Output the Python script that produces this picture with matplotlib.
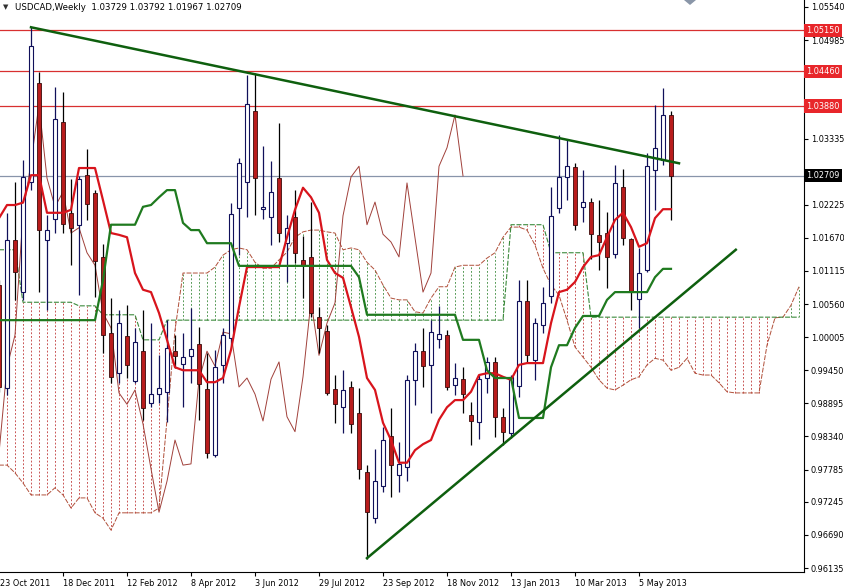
import matplotlib
matplotlib.use("Agg")
import matplotlib.pyplot as plt
from matplotlib.patches import Polygon

# weekly USDCAD candles, first bar = 23 Oct 2011
opens = [1.0088, 0.9915, 1.0163, 1.0076, 1.0261, 1.0426, 1.0163, 1.0199, 1.0362, 1.0209,
         1.0189, 1.0272, 1.0242, 1.0135, 1.0007, 0.9940, 1.0002, 0.9927, 0.9977, 0.9890,
         0.9905, 0.9909, 0.9977, 0.9955, 0.9969, 0.9989, 0.9914, 0.9803, 0.9954, 0.9999,
         1.0217, 1.0261, 1.0380, 1.0215, 1.0202, 1.0267, 1.0158, 1.0202, 1.0130, 1.0135,
         1.0034, 1.0011, 0.9914, 0.9883, 0.9917, 0.9873, 0.9774, 0.9697, 0.9751, 0.9835,
         0.9769, 0.9783, 0.9929, 0.9977, 0.9954, 0.9997, 1.0004, 0.9920, 0.9930, 0.9870,
         0.9858, 0.9932, 0.9959, 0.9867, 0.9840, 0.9919, 1.0061, 0.9962, 1.0021, 1.0070,
         1.0217, 1.0269, 1.0286, 1.0219, 1.0227, 1.0172, 1.0175, 1.0140, 1.0252, 1.0165,
         1.0064, 1.0113, 1.0281, 1.0298, 1.03729]
highs = [1.0096, 1.0209, 1.0261, 1.0298, 1.0520, 1.0445, 1.0206, 1.0420, 1.0411, 1.0266,
         1.0271, 1.0316, 1.0247, 1.0157, 1.0066, 1.0046, 1.0054, 1.0016, 1.0046, 1.0024,
         0.9970, 1.0029, 1.0004, 1.0007, 1.0049, 1.0017, 0.9974, 0.9979, 1.0016, 1.0225,
         1.0301, 1.0440, 1.0443, 1.0321, 1.0296, 1.0360, 1.0206, 1.0247, 1.0170, 1.0227,
         1.0051, 1.0021, 0.9937, 0.9945, 0.9927, 0.9915, 0.9786, 0.9813, 0.9850, 0.9882,
         0.9825, 0.9937, 0.9991, 1.0016, 1.0029, 1.0053, 1.0012, 0.9957, 0.9950, 0.9892,
         0.9937, 0.9967, 0.9967, 0.9882, 0.9937, 1.0096, 1.0096, 1.0032, 1.0085, 1.0252,
         1.0339, 1.0331, 1.0292, 1.0281, 1.0234, 1.0230, 1.0210, 1.0289, 1.0282, 1.0167,
         1.0150, 1.0309, 1.0390, 1.0418, 1.03792]
lows = [0.9909, 0.9904, 1.0063, 1.0063, 1.0247, 1.0076, 1.0046, 1.0175, 1.0175, 1.0121,
        1.0071, 1.0197, 1.0068, 0.9974, 0.9924, 0.9924, 0.9932, 0.9924, 0.9862, 0.9883,
        0.9890, 0.9858, 0.9949, 0.9883, 0.9924, 0.9862, 0.9798, 0.9800, 0.9924, 0.9987,
        1.0138, 1.0202, 1.0205, 1.0199, 1.0155, 1.0160, 1.0093, 1.0125, 1.0066, 1.0034,
        0.9974, 0.9904, 0.9857, 0.9840, 0.9840, 0.9763, 0.9629, 0.9689, 0.9741, 0.9733,
        0.9741, 0.9759, 0.9887, 0.9917, 0.9873, 0.9982, 0.9912, 0.9904, 0.9873, 0.9820,
        0.9830, 0.9907, 0.9833, 0.9820, 0.9831, 0.9900, 0.9957, 0.9929, 1.0007, 1.0058,
        1.0209, 1.0230, 1.0180, 1.0193, 1.0132, 1.0113, 1.0083, 1.0133, 1.0155, 1.0046,
        1.0016, 1.0110, 1.0214, 1.0289, 1.01967]
closes = [0.9917, 1.0163, 1.0110, 1.0269, 1.0489, 1.0180, 1.0180, 1.0366, 1.0190, 1.0184,
          1.0266, 1.0224, 1.0128, 1.0004, 0.9934, 1.0024, 0.9954, 0.9992, 0.9882, 0.9905,
          0.9915, 0.9982, 0.9969, 0.9967, 0.9981, 0.9922, 0.9806, 0.9950, 1.0004, 1.0207,
          1.0293, 1.0391, 1.0267, 1.0219, 1.0244, 1.0175, 1.0184, 1.0142, 1.0121, 1.0041,
          1.0016, 0.9907, 0.9888, 0.9912, 0.9855, 0.9780, 0.9707, 0.9759, 0.9828, 0.9786,
          0.9788, 0.9929, 0.9977, 0.9952, 1.0009, 1.0006, 0.9917, 0.9932, 0.9905, 0.9860,
          0.9930, 0.9959, 0.9867, 0.9842, 0.9934, 1.0061, 0.9970, 1.0024, 1.0058, 1.0204,
          1.0269, 1.0287, 1.0189, 1.0227, 1.0173, 1.0160, 1.0135, 1.0259, 1.0167, 1.0076,
          1.0108, 1.0287, 1.0318, 1.0373, 1.02709]

# Ichimoku lines
tenkan = [1.0200, 1.0222, 1.0222, 1.0226, 1.0272, 1.0272, 1.0209, 1.0209, 1.0209, 1.0214,
          1.0284, 1.0284, 1.0284, 1.0230, 1.0175, 1.0172, 1.0168, 1.0108, 1.0080, 1.0076,
          1.0041, 0.9996, 0.9950, 0.9945, 0.9945, 0.9945, 0.9925, 0.9925, 0.9932, 0.9979,
          1.0051, 1.0118, 1.0118, 1.0118, 1.0118, 1.0118, 1.0168, 1.0214, 1.0251, 1.0235,
          1.0209, 1.0130, 1.0108, 1.0100, 1.0051, 1.0001, 0.9932, 0.9912, 0.9857, 0.9828,
          0.9790, 0.9790, 0.9811, 0.9821, 0.9828, 0.9862, 0.9883, 0.9895, 0.9895, 0.9909,
          0.9937, 0.9940, 0.9940, 0.9934, 0.9929, 0.9954, 0.9957, 0.9957, 0.9957, 1.0024,
          1.0076, 1.0080, 1.0093, 1.0118, 1.0135, 1.0138, 1.0168, 1.0197, 1.0209, 1.0185,
          1.0152, 1.0158, 1.0200, 1.0215, 1.0215]
kijun = ([1.0029] * 13 + [1.0096] + [1.0189] * 4 + [1.0219, 1.0222, 1.0235, 1.0247, 1.0247,
         1.0192, 1.0180, 1.0180] + [1.0158] * 4 + [1.0120] * 15 + [1.0101] + [1.0038] * 12
         + [0.9996] * 3 + [0.9945] + [0.9932] * 3 + [0.9865] * 4 + [0.9950, 0.9987, 0.9987,
         1.0016, 1.0036, 1.0036, 1.0036, 1.0063] + [1.0076] * 5 + [1.0101, 1.0115, 1.0115])
span_a = [0.9786, 0.9786, 0.9773, 0.9756, 0.9736, 0.9736, 0.9736, 0.9748, 0.9736, 0.9714,
          0.9731, 0.9731, 0.9706, 0.9697, 0.9677, 0.9706, 0.9706, 0.9706, 0.9706, 0.9706,
          0.9714, 0.9862, 1.0012, 1.0108, 1.0108, 1.0108, 1.0108, 1.0118, 1.0138, 1.0147,
          1.0150, 1.0147, 1.0126, 1.0116, 1.0116, 1.0130, 1.0143, 1.0168, 1.0177, 1.0180,
          1.0180, 1.0177, 1.0175, 1.0147, 1.0150, 1.0147, 1.0126, 1.0113, 1.0088, 1.0066,
          1.0063, 1.0063, 1.0043, 1.0041, 1.0066, 1.0085, 1.0085, 1.0118, 1.0121, 1.0121,
          1.0121, 1.0133, 1.0142, 1.0168, 1.0185, 1.0185, 1.0180, 1.0155, 1.0116, 1.0088,
          1.0071, 1.0029, 0.9984, 0.9967, 0.9950, 0.9929, 0.9915, 0.9912, 0.9920, 0.9929,
          0.9934, 0.9954, 0.9965, 0.9962, 0.9945, 0.9950, 0.9965, 0.9940, 0.9937, 0.9937,
          0.9924, 0.9909, 0.9907, 0.9907, 0.9907, 0.9907, 0.9987, 1.0033, 1.0034, 1.0054,
          1.0085]
span_b = ([1.0147] * 3 + [1.0059] * 7 + [1.0053] * 3 + [1.0038] * 5 + [0.9996] * 3
          + [1.0029] * 43 + [1.0189] * 5 + [1.0142] * 5 + [1.0034] * 27)

levels = [1.05150, 1.04460, 1.03880]
last_price = 1.02709
trend_top_x, trend_top_y = [4, 85], [1.0520, 1.0292]
trend_bot_x, trend_bot_y = [46, 92.1], [0.9630, 1.0147]

y_ticks = [1.05540, 1.04985, 1.04430, 1.03335, 1.02780, 1.02225, 1.01670, 1.01115,
           1.00560, 1.00005, 0.99450, 0.98895, 0.98340, 0.97785, 0.97245, 0.96690, 0.96135]
hidden_ticks = [1.04430, 1.02780]  # covered by the price boxes
x_ticks = [8, 16, 24, 32, 40, 48, 56, 64, 72, 80]
x_labels = ["18 Dec 2011", "12 Feb 2012", "8 Apr 2012", "3 Jun 2012", "29 Jul 2012",
            "23 Sep 2012", "18 Nov 2012", "13 Jan 2013", "10 Mar 2013", "5 May 2013"]
first_label = "23 Oct 2011"
title = "USDCAD,Weekly  1.03729 1.03792 1.01967 1.02709"

FONT = "DejaVu Sans"
FS = 5.9

fig = plt.figure(figsize=(8.45, 5.88), dpi=100)
ax = fig.add_axes([0, 16 / 588, 804 / 845, 572 / 588])
ax.set_xlim(0.125, 100.625)
ax.set_ylim(0.96068, 1.05657)

# cloud hatching
n_cloud = len(span_a)
for i in range(n_cloud):
    a, b = span_a[i], span_b[i]
    col = "#3c8a3c" if a > b else "#c03a3a"
    ax.vlines(i, min(a, b), max(a, b), colors=col, linestyles=(0, (2.2, 2.2)),
              linewidth=0.6, zorder=1)
ax.plot(range(n_cloud), span_a, color="#b0503a", lw=0.7, ls=(0, (5, 1.5)), zorder=1.2)
ax.plot(range(n_cloud), span_b, color="#3c8a3c", lw=0.8, ls=(0, (4.5, 1.5)), zorder=1.2)

# horizontal levels
for lv in levels:
    ax.axhline(lv, color="#d83030", lw=0.9, zorder=1.5)
ax.axhline(last_price, color="#8894aa", lw=0.9, zorder=1.5)

# chikou span: closes plotted 26 bars back
ax.plot(range(len(closes) - 26), closes[26:], color="#a0403a", lw=0.7, zorder=2)

# candles
for i, (o, h, l, c) in enumerate(zip(opens, highs, lows, closes)):
    up = c >= o
    wick = "#10105a" if up else "#000000"
    ax.vlines(i, l, h, colors=wick, lw=0.9, zorder=3)
    lo, hi = min(o, c), max(o, c)
    if hi - lo < 0.0002:
        hi = lo + 0.0002
    if up:
        ax.bar(i, hi - lo, bottom=lo, width=0.58, color="white", edgecolor="#10105a",
               linewidth=0.8, zorder=3.5)
    else:
        ax.bar(i, hi - lo, bottom=lo, width=0.62, color="#b81c1c", edgecolor="#3a0a0a",
               linewidth=0.6, zorder=3.5)

# tenkan / kijun
ax.plot(range(len(tenkan)), tenkan, color="#d8141c", lw=1.6, zorder=4)
ax.plot(range(len(kijun)), kijun, color="#1f7a1f", lw=1.6, zorder=4)

# trend lines
ax.plot(trend_top_x, trend_top_y, color="#0e5f0e", lw=1.8, zorder=5)
ax.plot(trend_bot_x, trend_bot_y, color="#0e5f0e", lw=1.8, zorder=5)

# axes styling
for s in ["left", "top"]:
    ax.spines[s].set_visible(False)
ax.yaxis.tick_right()
ax.set_yticks(y_ticks)
ax.set_yticklabels(["" if v in hidden_ticks else f"{v:.5f}" for v in y_ticks],
                   fontsize=FS, family=FONT)
ax.tick_params(axis="y", length=3, width=0.8, pad=2)
ax.set_xticks(x_ticks)
ax.set_xticklabels(x_labels, fontsize=FS, family=FONT, ha="left")
ax.tick_params(axis="x", length=3, width=0.8, pad=2)

# price boxes on the right scale
for lv in levels:
    ax.text(1.003, lv, f"{lv:.5f}", transform=ax.get_yaxis_transform(), fontsize=FS,
            family=FONT, color="white", va="center", ha="left", clip_on=False, zorder=10,
            bbox=dict(boxstyle="square,pad=0.25", fc="#e8262a", ec="none"))
ax.text(1.003, last_price, f"{last_price:.5f}", transform=ax.get_yaxis_transform(),
        fontsize=FS, family=FONT, color="white", va="center", ha="left", clip_on=False,
        zorder=10, bbox=dict(boxstyle="square,pad=0.25", fc="#000000", ec="none"))

ax.text(0.0, -0.012, first_label, transform=ax.transAxes, fontsize=FS, family=FONT,
        va="top", ha="left")
fig.text(3 / 845, 1 - 7 / 588, "\u25bc", fontsize=5, color="#303030", va="center")
fig.text(15 / 845, 1 - 7 / 588, title, fontsize=FS + 0.3, family=FONT, va="center")

# grey shift marker at the top edge
fig.patches.append(Polygon([(684 / 845, 1.0), (696 / 845, 1.0), (690 / 845, 1 - 5 / 588)],
                           closed=True, fc="#8a96a8", ec="none",
                           transform=fig.transFigure, figure=fig))

fig.savefig("out.png", dpi=100)
